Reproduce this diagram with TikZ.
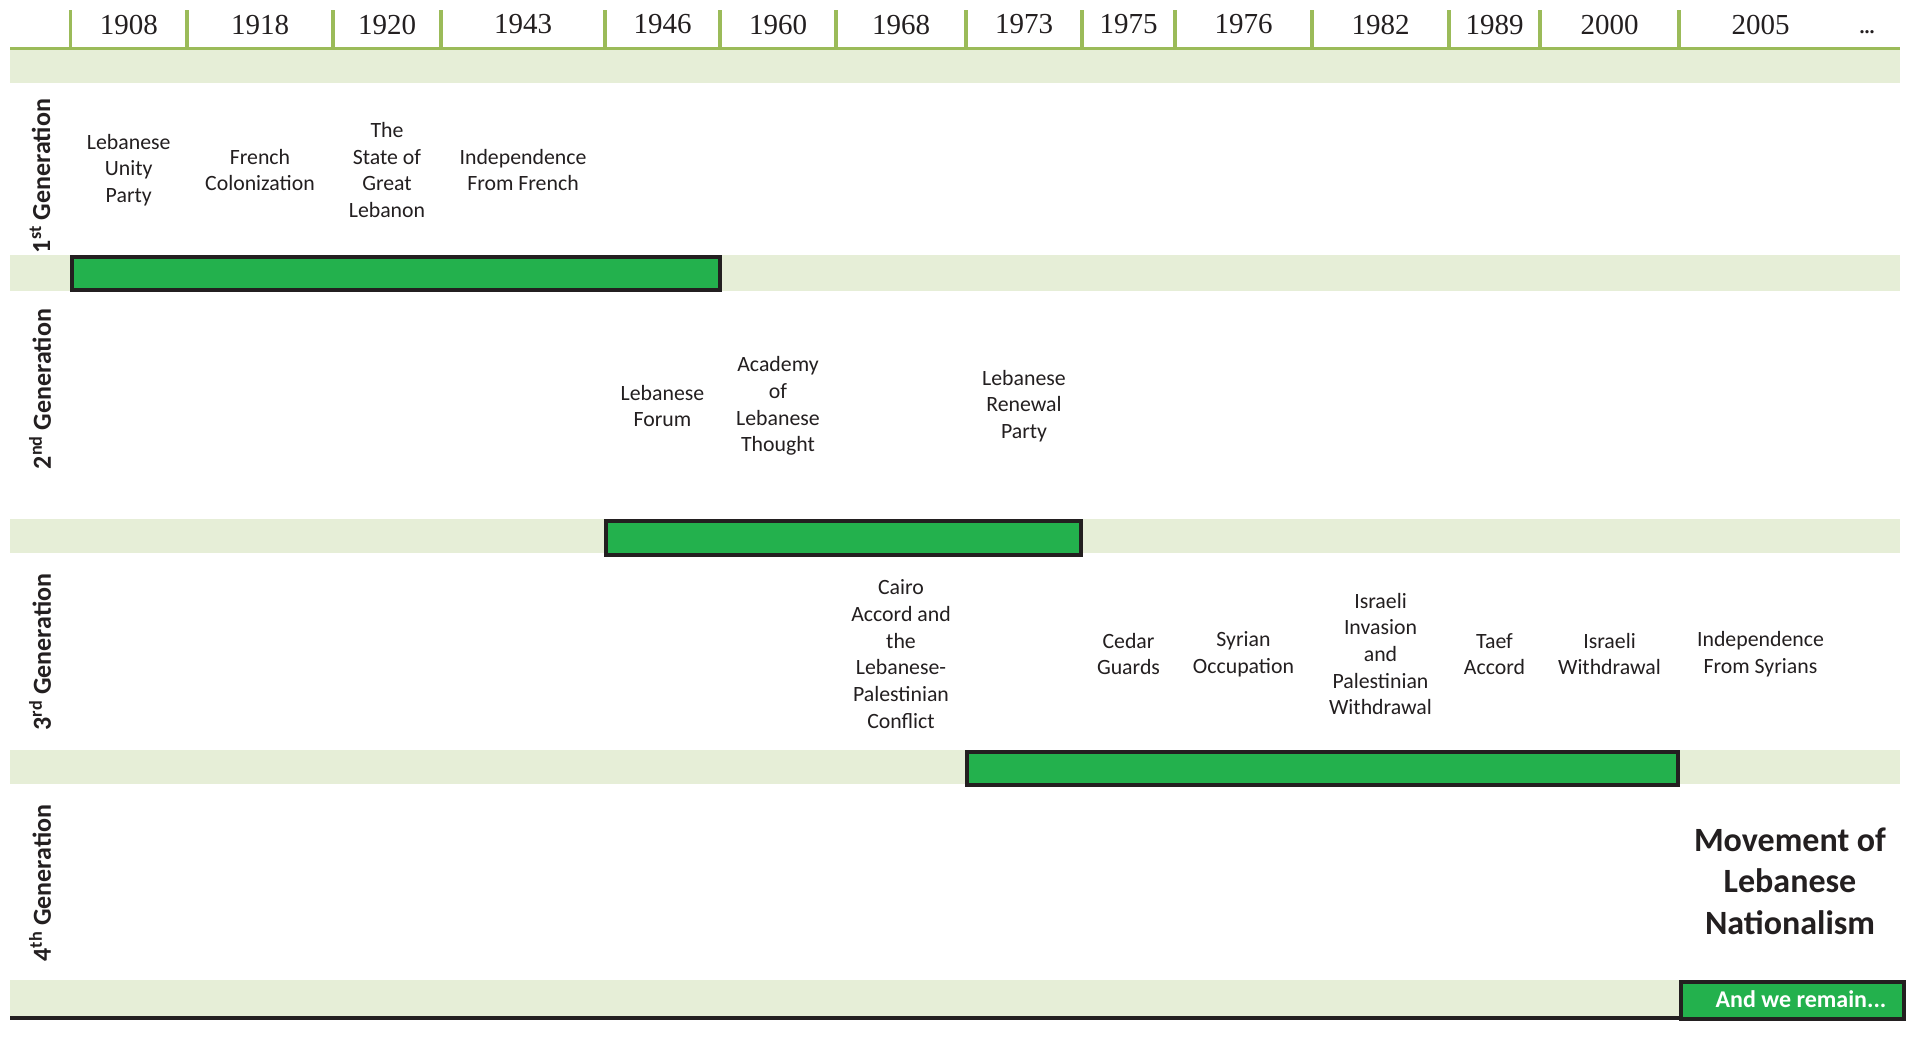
\documentclass[tikz,border=0pt]{standalone}
\usepackage{fontspec}
\setmainfont{Carlito}
\newfontfamily\yearfont{Liberation Serif}
\definecolor{bandgreen}{HTML}{E6EED7}
\definecolor{tickgreen}{HTML}{9BBB59}
\definecolor{bargreen}{HTML}{23B14D}
\definecolor{ink}{HTML}{231F20}
\begin{document}
\begin{tikzpicture}[x=1pt,y=-1pt,
  band/.style={fill=bandgreen,draw=none},
  genbar/.style={fill=bargreen,draw=ink,line width=4pt},
  tick/.style={draw=tickgreen,line width=3.5pt},
  year/.style={font=\yearfont\fontsize{29}{32}\selectfont,text=ink,anchor=center,inner sep=0pt},
  event/.style={font=\fontsize{21.8}{26.7}\selectfont,text=ink,align=center,inner sep=0pt},
  gen/.style={font=\bfseries\fontsize{26}{30}\selectfont,rotate=90,text=ink,inner sep=0pt},
  bigtext/.style={font=\bfseries\fontsize{34}{41.5}\selectfont,text=ink,align=center,inner sep=0pt},
  remain/.style={font=\bfseries\fontsize{24}{28}\selectfont,text=white,inner sep=0pt},
]
\useasboundingbox[fill=white] (0,0) rectangle (1906,1050);
% bands
\fill[band] (10,50) rectangle (1900,83);
\fill[band] (10,255) rectangle (1900,290.5);
\fill[band] (10,519) rectangle (1900,553);
\fill[band] (10,750) rectangle (1900,784);
\fill[band] (10,980) rectangle (1900,1016);
% header line and ticks
\draw[tick] (10,48.5) -- (1900,48.5);
\foreach \x in {70.5,187,333,441,605,720,836,966,1082,1175,1312,1449,1540,1679}
  \draw[tick] (\x,10) -- (\x,48.5);
% years
\foreach \x/\y [count=\i] in {128.75/1908,260/1918,387/1920,523/1943,662.5/1946,778/1960,901/1968,1024/1973,1128.5/1975,1243.5/1976,1380.5/1982,1494.5/1989,1609.5/2000,1760.5/2005}
  \node[year] (y\i) at (\x,24.5) {\y};
\node[year] (ydots) at (1867,32) {\fontsize{20}{24}\selectfont\bfseries...};
% bottom line
\draw[ink,line width=4pt] (10,1018) -- (1900,1018);
% generation bars
\draw[genbar] (72,257) rectangle (720,290);
\draw[genbar] (606,521) rectangle (1081,555);
\draw[genbar] (967,752) rectangle (1678,785);
\draw[genbar] (1681,982) rectangle (1904,1019);
% generation labels
\node[gen] (g1) at (40,176) {1\textsuperscript{st} Generation};
\node[gen] (g2) at (40,389) {2\textsuperscript{nd} Generation};
\node[gen] (g3) at (40,652) {3\textsuperscript{rd} Generation};
\node[gen] (g4) at (40,883) {4\textsuperscript{th} Generation};
% events row 1
\node[event] (e1) at (128.75,170) {Lebanese\\Unity\\Party};
\node[event] (e2) at (260,170) {French\\Colonization};
\node[event] (e3) at (387,170) {The\\State of\\Great\\Lebanon};
\node[event] (e4) at (523,170) {Independence\\From French};
% events row 2
\node[event] (e5) at (662.5,406) {Lebanese\\Forum};
\node[event] (e6) at (778,406) {Academy\\of\\Lebanese\\Thought};
\node[event] (e7) at (1024,406) {Lebanese\\Renewal\\Party};
% events row 3
\node[event] (e8) at (901,654) {Cairo\\Accord and\\the\\Lebanese-\\Palestinian\\Conflict};
\node[event] (e9) at (1128.5,654) {Cedar\\Guards};
\node[event] (e10) at (1243.5,654) {Syrian\\Occupation};
\node[event] (e11) at (1380.5,654) {Israeli\\Invasion\\and\\Palestinian\\Withdrawal};
\node[event] (e12) at (1494.5,654) {Taef\\Accord};
\node[event] (e13) at (1609.5,654) {Israeli\\Withdrawal};
\node[event] (e14) at (1760.5,654) {Independence\\From Syrians};
% row 4
\node[bigtext] (mov) at (1790,881) {Movement of\\Lebanese\\Nationalism};
\node[remain] (rem) at (1801,999) {And we remain...};
\end{tikzpicture}
\end{document}
